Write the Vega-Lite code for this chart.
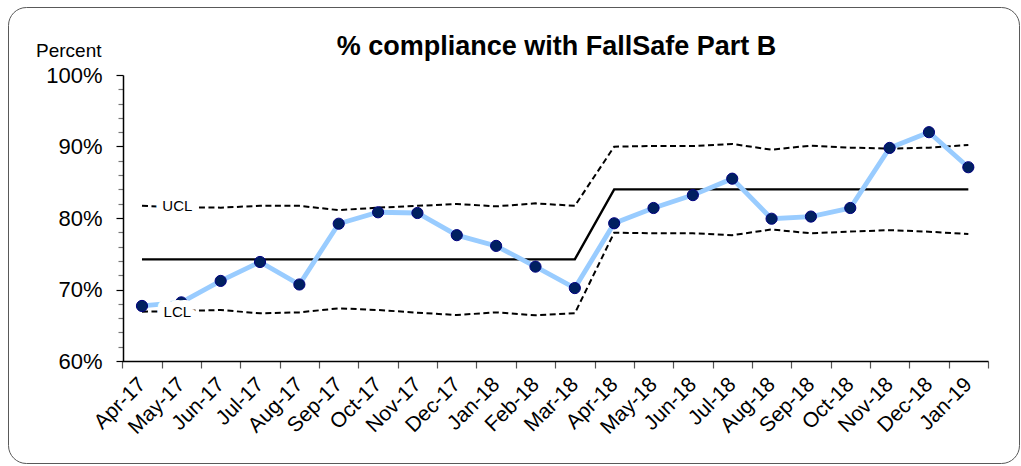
{
  "$schema": "https://vega.github.io/schema/vega-lite/v6.json",
  "width": 1011,
  "height": 456,
  "autosize": "none",
  "padding": {"left": 8, "top": 7, "right": 2, "bottom": 3},
  "background": "white",
  "config": {
    "font": "Liberation Sans",
    "view": {"stroke": "#595959", "strokeWidth": 1, "cornerRadius": 18}
  },
  "title": {
    "text": "% compliance with FallSafe Part B",
    "font": "Liberation Sans",
    "fontSize": 27,
    "fontWeight": "bold",
    "color": "#000000",
    "anchor": "middle",
    "dx": 43,
    "baseline": "alphabetic",
    "offset": -75
  },
  "datasets": {
    "chart": [
      {"month": "Apr-17", "value": 0.677, "cl": 0.7422, "ucl": 0.817, "lcl": 0.669},
      {"month": "May-17", "value": 0.682, "cl": 0.7422, "ucl": 0.815, "lcl": 0.670},
      {"month": "Jun-17", "value": 0.712, "cl": 0.7422, "ucl": 0.8145, "lcl": 0.6713},
      {"month": "Jul-17", "value": 0.7385, "cl": 0.7422, "ucl": 0.817, "lcl": 0.6667},
      {"month": "Aug-17", "value": 0.707, "cl": 0.7422, "ucl": 0.817, "lcl": 0.668},
      {"month": "Sep-17", "value": 0.792, "cl": 0.7422, "ucl": 0.811, "lcl": 0.6737},
      {"month": "Oct-17", "value": 0.808, "cl": 0.7422, "ucl": 0.8145, "lcl": 0.6713},
      {"month": "Nov-17", "value": 0.807, "cl": 0.7422, "ucl": 0.817, "lcl": 0.6676},
      {"month": "Dec-17", "value": 0.776, "cl": 0.7422, "ucl": 0.8196, "lcl": 0.6643},
      {"month": "Jan-18", "value": 0.761, "cl": 0.7422, "ucl": 0.8163, "lcl": 0.668},
      {"month": "Feb-18", "value": 0.732, "cl": 0.7422, "ucl": 0.8205, "lcl": 0.6639},
      {"month": "Mar-18", "value": 0.702, "cl": 0.7422, "ucl": 0.817, "lcl": 0.6667},
      {"month": "Apr-18", "value": 0.7926, "cl": 0.84, "ucl": 0.8998, "lcl": 0.7795},
      {"month": "May-18", "value": 0.814, "cl": 0.84, "ucl": 0.9007, "lcl": 0.7786},
      {"month": "Jun-18", "value": 0.832, "cl": 0.84, "ucl": 0.9007, "lcl": 0.7786},
      {"month": "Jul-18", "value": 0.855, "cl": 0.84, "ucl": 0.9035, "lcl": 0.776},
      {"month": "Aug-18", "value": 0.799, "cl": 0.84, "ucl": 0.8956, "lcl": 0.784},
      {"month": "Sep-18", "value": 0.802, "cl": 0.84, "ucl": 0.9012, "lcl": 0.7786},
      {"month": "Oct-18", "value": 0.814, "cl": 0.84, "ucl": 0.8984, "lcl": 0.781},
      {"month": "Nov-18", "value": 0.898, "cl": 0.84, "ucl": 0.897, "lcl": 0.783},
      {"month": "Dec-18", "value": 0.920, "cl": 0.84, "ucl": 0.8984, "lcl": 0.7808},
      {"month": "Jan-19", "value": 0.871, "cl": 0.84, "ucl": 0.902, "lcl": 0.7776}
    ],
    "labels": [
      {"month": "May-17", "v": 0.8163, "label": "UCL"},
      {"month": "May-17", "v": 0.668, "label": "LCL"}
    ]
  },
  "encoding": {
    "x": {
      "field": "month", "type": "ordinal", "sort": null,
      "scale": {
        "type": "band",
        "domain": ["Apr-17","May-17","Jun-17","Jul-17","Aug-17","Sep-17","Oct-17","Nov-17","Dec-17","Jan-18","Feb-18","Mar-18","Apr-18","May-18","Jun-18","Jul-18","Aug-18","Sep-18","Oct-18","Nov-18","Dec-18","Jan-19"],
        "range": [114.3, 980],
        "paddingInner": 0, "paddingOuter": 0
      },
      "axis": {
        "title": null,
        "offset": -102,
        "tickBand": "extent",
        "domainColor": "#000000",
        "domainWidth": 1.5,
        "tickColor": "#555555",
        "tickSize": 7,
        "tickWidth": 1.2,
        "labelAngle": -45,
        "labelAlign": "right",
        "labelBaseline": "middle",
        "labelFont": "Liberation Sans",
        "labelFontSize": 21,
        "labelColor": "#000000",
        "labelPadding": 13,
        "labelOverlap": false
      }
    },
    "y": {
      "field": "v", "type": "quantitative",
      "scale": {"domain": [0.6, 1.0], "range": [354, 68], "zero": false, "nice": false},
      "axis": {
        "title": "Percent",
        "titleAngle": 0,
        "titleAlign": "right",
        "titleBaseline": "alphabetic",
        "titleX": -22,
        "titleY": 49.5,
        "titleFont": "Liberation Sans",
        "titleFontSize": 19,
        "titleFontWeight": "normal",
        "titleColor": "#000000",
        "offset": -115,
        "grid": false,
        "values": [0.6,0.62,0.64,0.66,0.68,0.7,0.72,0.74,0.76,0.78,0.8,0.82,0.84,0.86,0.88,0.9,0.92,0.94,0.96,0.98,1.0],
        "labelExpr": "round(datum.value*100) % 10 === 0 ? format(datum.value, '.0%') : ''",
        "labelOverlap": false,
        "domainColor": "#000000",
        "domainWidth": 1.5,
        "tickColor": {"condition": {"test": "round(datum.value*100) % 10 !== 0", "value": "#777777"}, "value": "#000000"},
        "tickSize": {"condition": {"test": "round(datum.value*100) % 10 !== 0", "value": 5}, "value": 7},
        "tickWidth": 1.2,
        "labelFont": "Liberation Sans",
        "labelFontSize": 22,
        "labelColor": "#000000",
        "labelPadding": 14
      }
    }
  },
  "layer": [
    {
      "data": {"name": "chart"},
      "transform": [
        {"fold": ["ucl", "lcl"], "as": ["series", "v"]}
      ],
      "mark": {"type": "line", "color": "#000000", "strokeWidth": 2, "strokeDash": [6, 3.5]},
      "encoding": {"detail": {"field": "series"}}
    },
    {
      "data": {"name": "chart"},
      "transform": [
        {"fold": ["cl"], "as": ["series", "v"]}
      ],
      "mark": {"type": "line", "color": "#000000", "strokeWidth": 2.4},
      "encoding": {}
    },
    {
      "data": {"name": "chart"},
      "transform": [
        {"fold": ["value"], "as": ["series", "v"]}
      ],
      "mark": {"type": "line", "color": "#99CCFF", "strokeWidth": 4.8},
      "encoding": {}
    },
    {
      "data": {"name": "chart"},
      "transform": [
        {"fold": ["value"], "as": ["series", "v"]}
      ],
      "mark": {"type": "point", "shape": "circle", "filled": true, "size": 125, "fill": "#002060", "stroke": "#000080", "strokeWidth": 1, "opacity": 1},
      "encoding": {}
    },
    {
      "data": {"name": "labels"},
      "mark": {"type": "text", "font": "Liberation Sans", "fontSize": 15, "dx": -4, "stroke": "white", "strokeWidth": 14, "strokeJoin": "round", "fill": "white", "baseline": "middle"},
      "encoding": {"text": {"field": "label"}}
    },
    {
      "data": {"name": "labels"},
      "mark": {"type": "text", "font": "Liberation Sans", "fontSize": 15, "dx": -4, "fill": "#000000", "baseline": "middle"},
      "encoding": {"text": {"field": "label"}}
    }
  ]
}
